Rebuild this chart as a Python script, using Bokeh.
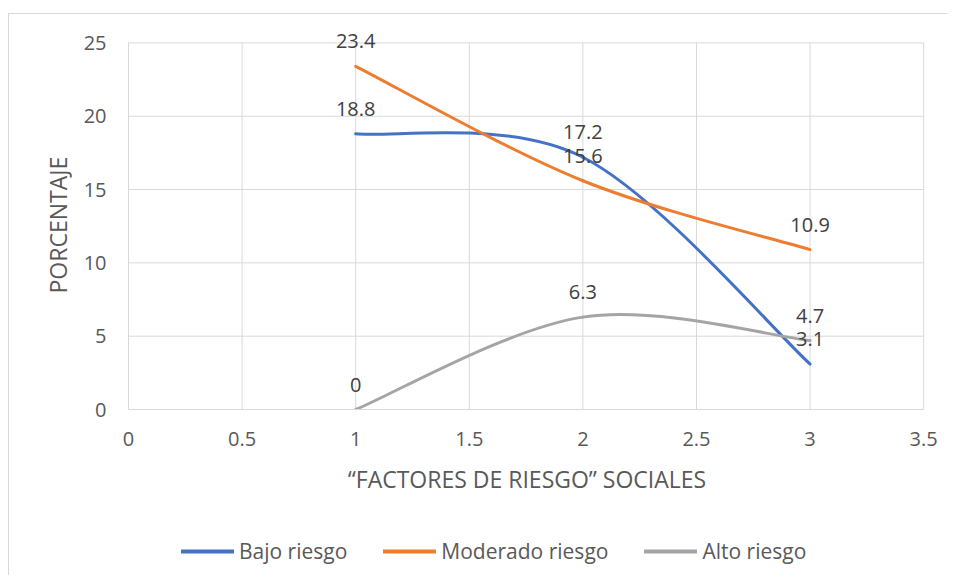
from bokeh.plotting import figure
from bokeh.layouts import column
from bokeh.models import Range1d, FixedTicker, Legend, LegendItem, Title
from bokeh.core.properties import value
from bokeh.embed import file_html
from bokeh.resources import INLINE

# ---- data ----
x_values = [1, 2, 3]
bajo = [18.8, 17.2, 3.1]
moderado = [23.4, 15.6, 10.9]
alto = [0, 6.3, 4.7]
series_names = ["Bajo riesgo", "Moderado riesgo", "Alto riesgo"]
series_colors = ["#4472C4", "#ED7D31", "#A5A5A5"]
x_ticks = [0, 0.5, 1, 1.5, 2, 2.5, 3, 3.5]
x_tick_labels = ["0", "0.5", "1", "1.5", "2", "2.5", "3", "3.5"]
y_ticks = [0, 5, 10, 15, 20, 25]
x_title = "\u201cFACTORES DE RIESGO\u201d SOCIALES"
y_title = "PORCENTAJE"

FONT = "Open Sans"
GRID = "#D9D9D9"
TXT = "#595959"

# room above the top gridline for the data labels
Y_END = 26.8
X_END = 3.508

p = figure(width=938, height=495, output_backend="svg", toolbar_location=None,
           x_range=Range1d(0, X_END), y_range=Range1d(0, Y_END),
           min_border_left=119, min_border_right=22, min_border_top=2, min_border_bottom=100)
p.outline_line_color = None
p.background_fill_color = "white"
p.border_fill_color = "white"
p.xgrid.visible = False
p.ygrid.visible = False

p.xaxis.ticker = FixedTicker(ticks=x_ticks)
p.xaxis.major_label_overrides = {t: l for t, l in zip(x_ticks, x_tick_labels)}
p.yaxis.ticker = FixedTicker(ticks=y_ticks)
p.xaxis.bounds = (x_ticks[0], x_ticks[-1])
p.yaxis.bounds = (y_ticks[0], y_ticks[-1])

for ax in (p.xaxis, p.yaxis):
    ax.axis_line_color = GRID
    ax.major_tick_line_color = None
    ax.minor_tick_line_color = None
    ax.major_tick_out = 0
    ax.major_tick_in = 0
    ax.major_label_text_font = FONT
    ax.major_label_text_font_size = "20px"
    ax.major_label_text_color = TXT
    ax.axis_label_text_font = FONT
    ax.axis_label_text_font_size = "23px"
    ax.axis_label_text_font_style = "normal"
    ax.axis_label_text_color = TXT

p.xaxis.axis_label = x_title
p.xaxis.major_label_standoff = 22
p.yaxis.major_label_standoff = 22
p.xaxis.axis_label_standoff = 14

ytitle = Title(text=y_title, align="left", offset=116, standoff=14, text_font=FONT,
               text_font_size="23px", text_font_style="normal", text_color=TXT)
p.add_layout(ytitle, "left")

# grid lines (bounded to the axis extent)
p.segment(x0=x_ticks, y0=[y_ticks[0]] * len(x_ticks), x1=x_ticks, y1=[y_ticks[-1]] * len(x_ticks),
          line_color=GRID, line_width=1)
p.segment(x0=[x_ticks[0]] * len(y_ticks), y0=y_ticks, x1=[x_ticks[-1]] * len(y_ticks), y1=y_ticks,
          line_color=GRID, line_width=1)


def smooth_segments(xs, ys):
    n = len(xs)
    pts = list(zip(xs, ys))
    out = {k: [] for k in ("x0", "y0", "x1", "y1", "cx0", "cy0", "cx1", "cy1")}
    for i in range(n - 1):
        pa = pts[i - 1] if i > 0 else pts[i]
        pb = pts[i]
        pc = pts[i + 1]
        pd = pts[i + 2] if i + 2 < n else pts[i + 1]
        out["x0"].append(pb[0]); out["y0"].append(pb[1])
        out["x1"].append(pc[0]); out["y1"].append(pc[1])
        out["cx0"].append(pb[0] + (pc[0] - pa[0]) / 6)
        out["cy0"].append(pb[1] + (pc[1] - pa[1]) / 6)
        out["cx1"].append(pc[0] - (pd[0] - pb[0]) / 6)
        out["cy1"].append(pc[1] - (pd[1] - pb[1]) / 6)
    return out


for name, ys, col in zip(series_names, [bajo, moderado, alto], series_colors):
    seg = smooth_segments(x_values, ys)
    p.bezier(x0=seg["x0"], y0=seg["y0"], x1=seg["x1"], y1=seg["y1"],
             cx0=seg["cx0"], cy0=seg["cy0"], cx1=seg["cx1"], cy1=seg["cy1"],
             line_color=col, line_width=3, line_cap="round")

for ys in [bajo, moderado, alto]:
    p.text(x=x_values, y=ys, text=[f"{v:g}" for v in ys],
           text_font=value(FONT), text_font_size="20px", text_color="#404040",
           text_align="center", text_baseline="alphabetic", y_offset=-25)

# ---- legend strip ----
p2 = figure(width=938, height=66, output_backend="svg", toolbar_location=None,
            x_range=Range1d(0, 1), y_range=Range1d(0, 1),
            min_border=0, min_border_left=0, min_border_right=0,
            min_border_top=0, min_border_bottom=0)
p2.axis.visible = False
p2.grid.visible = False
p2.outline_line_color = None
p2.background_fill_color = "white"
p2.border_fill_color = "white"

items = []
for name, ys, col in zip(series_names, [bajo, moderado, alto], series_colors):
    r = p2.line(x_values, ys, line_color=col, line_width=4, line_cap="round", visible=False)
    items.append(LegendItem(label=name, renderers=[r]))

legend = Legend(items=items, orientation="horizontal", location=(53, 10),
                glyph_width=53, glyph_height=20, label_standoff=5, spacing=36,
                padding=0, margin=0, border_line_color=None, background_fill_alpha=0,
                label_text_font=FONT, label_text_font_size="21px", label_text_color=TXT)
p2.add_layout(legend, "center")

layout = column(p, p2, spacing=0,
                styles={"margin-top": "13px", "margin-left": "8px",
                        "border-top": "1px solid #D9D9D9",
                        "border-left": "1px solid #D9D9D9"})

open("out.html", "w").write(file_html(layout, INLINE))
